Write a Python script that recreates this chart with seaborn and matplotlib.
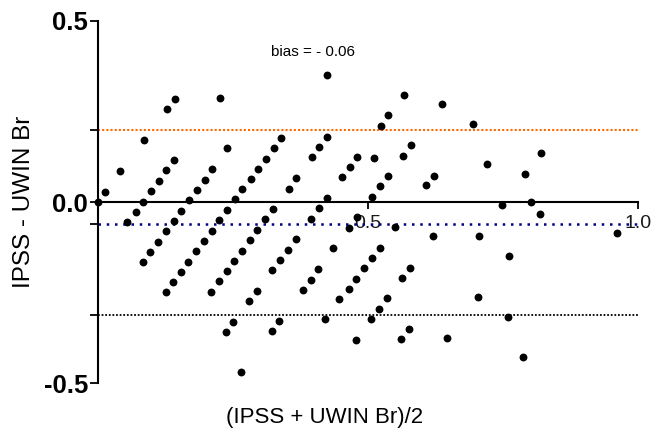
import numpy as np
import pandas as pd
import matplotlib
matplotlib.use("Agg")
import matplotlib.pyplot as plt
import seaborn as sns

# Bland-Altman data: mean of the two scores vs. their difference
mean_vals = [
    0.142, 0.127, 0.225, 0.085, 0.238, 0.041, 0.141, 0.126, 0.112, 0.098,
    0.083, 0.069, 0.054, 0.013, 0.000, 0.211, 0.197, 0.182, 0.168, 0.154,
    0.140, 0.125, 0.111, 0.096, 0.082, 0.238, 0.224, 0.210, 0.196, 0.181,
    0.167, 0.153, 0.138, 0.125, 0.238, 0.223, 0.209, 0.339, 0.325, 0.311,
    0.296, 0.282, 0.267, 0.253, 0.424, 0.409, 0.395, 0.367, 0.353, 0.451,
    0.423, 0.408, 0.394, 0.324, 0.309, 0.294, 0.281, 0.266, 0.252, 0.366,
    0.351, 0.336, 0.322, 0.293, 0.279, 0.435, 0.407, 0.393, 0.379, 0.446,
    0.424, 0.566, 0.636, 0.537, 0.523, 0.480, 0.466, 0.511, 0.536, 0.522,
    0.507, 0.579, 0.565, 0.621, 0.606, 0.464, 0.480, 0.549, 0.620, 0.521,
    0.506, 0.492, 0.478, 0.464, 0.577, 0.562, 0.534, 0.520, 0.505, 0.420,
    0.693, 0.819, 0.720, 0.791, 0.747, 0.801, 0.818, 0.705, 0.960, 0.761,
    0.704, 0.759, 0.646, 0.787, 0.250, 0.236, 0.335, 0.321, 0.477, 0.575,
    0.561, 0.264,
]
diff_vals = [
    0.285, 0.257, 0.287, 0.170, 0.148, 0.085, 0.116, 0.088, 0.059, 0.031,
    0.001, -0.027, -0.056, 0.028, 0.000, 0.090, 0.062, 0.034, 0.005, -0.024,
    -0.053, -0.081, -0.110, -0.138, -0.166, -0.021, -0.050, -0.079, -0.108, -0.136,
    -0.165, -0.193, -0.220, -0.249, -0.191, -0.218, -0.247, 0.177, 0.148, 0.120,
    0.092, 0.064, 0.035, 0.007, 0.180, 0.151, 0.123, 0.067, 0.037, 0.068,
    0.012, -0.017, -0.046, -0.019, -0.047, -0.077, -0.105, -0.134, -0.162, -0.103,
    -0.131, -0.159, -0.188, -0.245, -0.274, -0.128, -0.185, -0.214, -0.242, -0.268,
    0.349, 0.296, 0.270, 0.239, 0.211, 0.125, 0.097, 0.121, 0.071, 0.043,
    0.014, 0.157, 0.128, 0.073, 0.046, -0.072, -0.041, -0.068, -0.095, -0.126,
    -0.155, -0.183, -0.212, -0.240, -0.181, -0.209, -0.266, -0.295, -0.323, -0.324,
    0.216, 0.136, 0.104, 0.078, -0.008, -0.001, -0.034, -0.093, -0.085, -0.148,
    -0.261, -0.317, -0.376, -0.427, -0.330, -0.358, -0.328, -0.356, -0.380, -0.350,
    -0.377, -0.469,
]

bias = -0.0615
upper_loa = 0.198
lower_loa = -0.311

y_ticks = [-0.5, 0.0, 0.5]
y_ticklabels = ["-0.5", "0.0", "0.5"]
x_ticks = [0.5, 1.0]
x_ticklabels = ["0.5", "1.0"]

df = pd.DataFrame({"mean": mean_vals, "diff": diff_vals})

sns.set_style("ticks")
plt.rcParams["font.family"] = ["Liberation Sans", "DejaVu Sans"]
plt.rcParams.update({"text.color": "black", "axes.labelcolor": "black",
                     "axes.edgecolor": "black", "xtick.color": "black",
                     "ytick.color": "black"})

fig = plt.figure(figsize=(6.54, 4.29), dpi=100)
ax = fig.add_axes([0.1503, 0.1065, 0.8257, 0.8452])

# limits of agreement and bias
ax.axhline(upper_loa, color="#FF6A00", lw=1.5, ls=(0, (1, 1.0)), zorder=1)
ax.axhline(bias, color="#000080", lw=1.8, ls=(0, (1, 2.3)), zorder=1)
ax.axhline(lower_loa, color="black", lw=1.3, ls=(0, (1, 1.0)), zorder=1)

sns.scatterplot(data=df, x="mean", y="diff", color="black", s=32,
                linewidth=0, ax=ax, clip_on=False, zorder=3)

ax.set_xlim(0, 1.0)
ax.set_ylim(-0.5, 0.5)

# spines: y axis on the left, x axis crossing at y = 0
for side in ["top", "right"]:
    ax.spines[side].set_visible(False)
ax.spines["bottom"].set_position(("data", 0))
ax.spines["left"].set_linewidth(1.5)
ax.spines["bottom"].set_linewidth(1.5)

ax.set_yticks(y_ticks)
ax.set_yticklabels(y_ticklabels, fontsize=18.5, fontweight="bold")
ax.set_yticks([upper_loa, bias, lower_loa], minor=True)
ax.tick_params(axis="y", which="both", length=5.5, width=1.3, pad=2, color="black")

ax.set_xticks(x_ticks)
ax.set_xticklabels(x_ticklabels, fontsize=14, color="#1a1a1a")
ax.tick_params(axis="x", which="major", length=5, width=1.3, pad=4, direction="out")

ax.text(0.398, 0.414, "bias = - 0.06", ha="center", va="center", fontsize=11)

ax.set_ylabel("IPSS - UWIN Br", fontsize=17.5)
ax.yaxis.set_label_coords(-0.117, 0.5)
ax.set_xlabel("(IPSS + UWIN Br)/2", fontsize=16)
ax.xaxis.set_label_coords(0.419, -0.065)

fig.savefig("out.png", dpi=100)
